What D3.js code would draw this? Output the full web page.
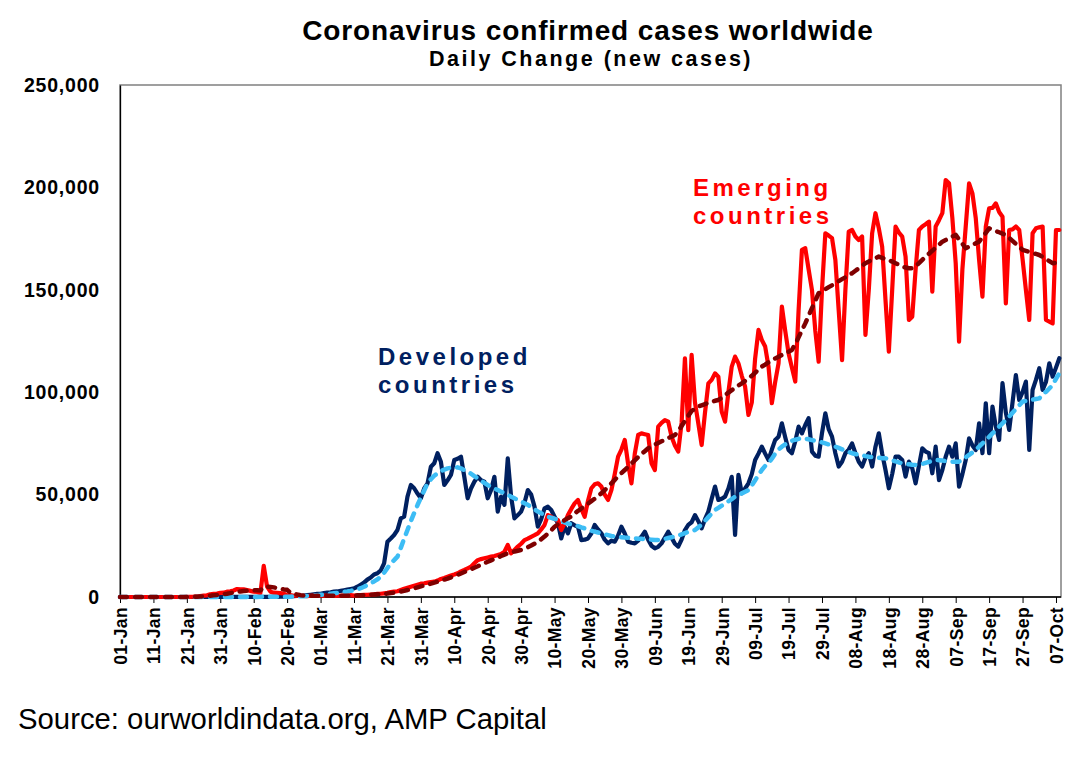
<!DOCTYPE html>
<html>
<head>
<meta charset="utf-8">
<script src="https://cdn.jsdelivr.net/npm/d3@7"></script>
<style>
  body { margin: 0; background: #fff; }
  text { font-family: "Liberation Sans", Arial, sans-serif; }
</style>
</head>
<body>
<svg id="chart" width="1090" height="763"></svg>
<script>
// daily new cases, thousands, one value per day from 01-Jan (index 0)
const developed = [
  0,0,0,0,0,0,0,0,0,0,
  0,0,0,0,0,0,0,0,0,0,
  0,0,0,0.01,0.01,0.02,0.02,0.02,0.03,0.03,
  0.03,0.04,0.05,0.04,0.05,0.05,0.06,0.05,0.06,0.07,
  0.06,0.07,0.08,0.1,0.1,0.1,0.12,0.1,0.15,0.2,
  0.2,0.3,0.4,0.5,0.6,0.7,0.9,1.1,1.3,1.5,
  1.6,1.9,2.1,2.3,2.6,2.7,3.0,3.3,3.6,3.9,
  4.2,5.0,6.0,7.0,8.5,9.5,11.0,11.6,13.0,16.4,
  27.0,28.6,30.3,32.7,38.4,39.2,49.0,54.7,53.1,50.5,
  48.2,53.0,55.5,63.6,65.3,70.2,66.0,54.7,57.0,59.6,
  66.9,67.5,68.5,58.7,48.2,53.0,56.3,58.7,57.0,56.3,
  48.2,52.2,58.7,41.7,49.0,45.0,67.7,49.0,38.4,40.0,
  41.7,46.0,52.2,50.0,44.1,34.3,38.0,43.3,44.1,42.5,
  39.2,36.0,28.6,34.3,31.1,36.0,35.0,34.3,27.8,28.0,
  28.6,31.0,35.2,33.0,31.1,28.0,26.2,27.5,27.0,30.0,
  34.3,31.0,27.0,26.5,26.2,27.5,29.5,31.9,28.0,25.0,
  23.8,24.5,26.2,29.0,31.9,29.0,26.0,24.6,28.0,32.7,
  35.2,36.5,40.0,37.0,33.5,38.0,41.7,48.0,53.9,47.4,
  48.0,49.0,53.0,58.7,30.3,59.6,50.6,53.0,55.5,60.0,
  66.9,70.0,73.4,70.0,66.9,72.0,76.7,78.3,84.8,78.0,
  71.8,70.2,76.0,83.2,79.9,84.0,87.3,71.0,69.0,68.5,
  80.0,89.7,82.0,78.3,70.2,63.7,66.0,70.2,72.0,75.0,
  70.2,66.0,63.7,68.0,70.2,63.7,73.4,79.9,70.0,62.0,
  53.1,60.0,68.5,68.5,66.9,58.8,66.1,62.9,55.5,64.0,
  72.6,71.0,70.2,60.4,73.4,57.1,62.0,68.5,73.4,68.5,
  75.0,53.9,60.0,66.9,77.5,74.0,71.8,84.8,70.2,94.6,
  70.2,93.0,83.2,76.7,104.4,90.0,81.6,95.0,108.4,96.2,
  100.0,105.2,71.8,101.1,106.0,111.7,101.1,105.0,114.1,107.6,
  112.0,116.6
];

const developedAvg = [
  0,0,0,0,0,0,0,0,0,0,
  0,0,0,0,0,0,0,0,0,0,
  0,0,0,0,0.01,0.01,0.01,0.02,0.02,0.02,
  0.03,0.03,0.03,0.04,0.04,0.04,0.05,0.05,0.05,0.05,
  0.06,0.06,0.07,0.07,0.08,0.09,0.1,0.1,0.11,0.13,
  0.15,0.18,0.22,0.27,0.33,0.4,0.5,0.62,0.75,0.9,
  1.05,1.2,1.4,1.6,1.8,2.0,2.2,2.5,2.7,3.0,
  3.4,3.8,4.3,5.0,5.8,6.7,7.6,8.6,9.9,11.8,
  14.2,16.4,18.0,19.7,24.0,28.5,32.7,37.0,41.0,44.9,
  48.5,52.0,55.5,57.5,59.2,60.4,61.5,62.2,62.8,63.1,
  63.2,63.3,62.8,62.0,61.2,60.2,59.0,57.9,56.8,55.7,
  54.7,53.8,53.0,52.2,51.4,50.6,49.8,49.0,48.2,47.4,
  46.6,45.8,45.0,43.9,42.8,41.7,40.9,40.0,39.2,38.7,
  38.2,37.6,37.0,36.4,35.8,35.5,35.2,34.6,34.0,33.5,
  32.9,32.4,31.9,31.5,31.0,30.6,30.2,29.8,29.5,29.3,
  29.2,29.0,28.9,28.8,28.6,28.5,28.4,28.3,28.1,28.0,
  27.8,27.8,28.0,28.4,28.8,29.2,29.5,30.0,30.6,31.2,
  31.8,32.2,32.7,34.0,35.5,37.2,39.0,40.8,42.5,43.5,
  44.6,45.6,46.7,47.8,49.0,49.8,50.6,51.4,52.2,54.5,
  57.0,59.6,62.0,64.0,65.3,67.5,70.0,72.0,73.4,74.5,
  75.5,76.3,76.8,77.2,77.5,77.3,77.0,76.6,76.2,75.9,
  75.5,75.0,74.5,74.0,73.4,72.8,72.1,71.5,70.8,70.2,
  69.8,69.5,69.2,68.8,68.5,68.3,68.1,68.0,67.8,67.7,
  67.3,66.8,66.2,65.7,65.3,65.0,64.8,64.6,64.5,64.7,
  65.0,65.5,66.0,66.5,66.9,66.8,66.6,66.4,66.1,66.1,
  66.1,66.1,67.0,68.2,69.4,70.6,71.8,73.4,75.0,76.6,
  78.2,79.9,81.5,83.2,84.8,86.4,88.1,90.0,91.8,93.6,
  95.4,95.8,96.1,96.4,96.7,97.0,98.6,100.2,101.8,103.5,
  106.5,109.2
];

const emerging = [
  0,0,0,0,0,0,0,0,0,0,
  0,0,0,0,0,0,0,0,0,0,
  0.05,0.1,0.15,0.26,0.5,0.7,0.8,1.3,1.5,1.7,
  2.0,2.1,2.6,2.8,3.2,3.9,3.7,3.7,3.4,3.0,
  2.6,2.5,2.0,15.2,5.1,2.6,2.1,2.0,1.9,1.7,
  0.8,0.9,0.6,0.7,0.5,0.5,0.4,0.6,0.7,0.6,
  0.8,0.7,0.6,0.5,0.5,0.6,0.6,0.7,0.8,0.9,
  0.7,0.8,0.9,1.0,1.1,1.2,1.3,1.5,1.6,1.8,
  2.0,2.4,2.6,2.8,3.4,4.0,4.5,5.0,5.5,6.0,
  6.5,6.7,7.0,7.3,7.5,8.0,8.8,9.3,9.9,10.5,
  11.0,11.6,12.5,13.2,14.0,14.8,16.5,18.0,18.5,18.9,
  19.3,19.7,20.0,20.5,21.0,22.1,25.4,21.3,23.0,24.6,
  26.0,27.8,28.5,29.4,30.2,31.1,33.0,35.2,40.0,39.2,
  38.0,37.6,32.7,36.0,40.0,43.0,45.7,47.4,43.0,39.2,
  47.0,53.1,55.0,55.5,53.9,50.0,47.4,52.2,60.0,68.5,
  72.0,76.7,65.0,55.5,70.0,79.1,79.9,79.5,79.1,65.3,
  62.0,83.2,85.0,86.4,85.6,78.3,74.0,71.0,85.0,116.5,
  81.5,118.2,95.0,84.8,74.2,90.0,104.3,106.0,109.2,107.6,
  90.5,85.6,100.0,112.5,117.4,114.1,108.0,102.7,88.9,95.0,
  116.5,130.4,125.5,122.3,112.5,94.6,105.0,114.1,141.8,130.0,
  119.0,112.0,105.2,140.0,169.5,170.3,160.0,149.9,130.0,114.9,
  150.0,177.6,176.5,175.2,164.6,140.0,115.7,150.0,178.4,179.2,
  176.0,174.3,176.0,128.0,150.0,177.6,187.4,180.0,171.1,145.0,
  119.8,150.0,180.9,178.0,176.0,166.2,135.3,136.9,159.7,179.2,
  180.9,182.0,183.3,149.1,180.9,184.0,187.4,203.6,202.0,185.0,
  163.0,124.7,160.0,180.9,202.0,197.1,185.0,164.6,146.7,180.9,
  189.8,190.0,192.2,188.0,185.7,143.4,179.2,179.5,180.9,179.2,
  165.0,149.9,135.3,177.6,180.0,180.5,180.9,135.3,134.5,133.6,
  179.2,179.2
];

const emergingAvg = [
  0,0,0,0,0,0,0,0,0,0,
  0,0,0,0,0,0,0,0,0,0,
  0,0.05,0.1,0.15,0.25,0.35,0.5,0.65,0.8,1.0,
  1.2,1.4,1.6,1.9,2.2,2.5,2.7,2.9,3.1,3.2,
  3.3,3.3,3.2,4.9,5.1,4.9,4.7,4.4,4.1,3.7,
  3.5,2.0,1.6,1.2,0.9,0.7,0.6,0.55,0.55,0.6,
  0.6,0.6,0.6,0.6,0.6,0.6,0.6,0.6,0.65,0.7,
  0.75,0.8,0.85,0.9,1.0,1.1,1.2,1.3,1.4,1.5,
  1.7,1.9,2.1,2.4,2.7,3.0,3.4,3.8,4.2,4.7,
  5.2,5.7,6.1,6.5,7.0,7.5,8.0,8.5,9.0,9.6,
  10.2,10.8,11.5,12.2,12.9,13.6,14.3,15.0,15.8,16.5,
  17.2,17.9,18.6,19.3,20.0,20.7,21.3,21.8,22.2,22.6,
  23.0,23.6,24.3,25.1,26.0,27.0,28.2,29.5,31.0,32.5,
  34.3,35.5,36.5,37.5,38.5,39.3,40.9,42.0,43.2,44.4,
  45.6,46.8,48.0,49.3,50.6,52.2,53.8,55.5,57.2,58.9,
  60.5,62.0,63.6,65.2,66.7,68.3,69.8,71.2,72.6,73.6,
  74.4,75.2,76.0,76.8,77.6,78.3,79.1,81.0,83.5,86.0,
  88.5,90.8,92.0,93.0,93.6,94.2,94.8,95.3,95.8,96.2,
  97.3,98.5,99.8,101.0,102.2,103.3,104.3,105.5,106.8,108.0,
  109.5,111.0,112.5,113.5,114.6,115.7,116.5,117.3,118.2,119.0,
  119.8,120.6,123.5,126.8,130.2,133.6,137.3,141.0,144.7,148.3,
  149.3,150.3,151.3,152.2,153.2,154.2,155.2,156.1,157.1,158.1,
  159.3,160.5,161.8,163.0,163.8,164.6,165.4,166.2,165.6,165.0,
  164.4,163.8,163.0,162.2,161.3,160.9,160.5,160.5,161.5,163.0,
  164.6,166.2,167.6,169.1,170.5,172.0,173.5,174.3,175.1,176.0,
  176.8,174.6,172.5,170.3,171.1,171.9,172.7,173.5,175.7,177.8,
  180.0,179.4,178.7,178.1,177.4,176.8,175.3,173.9,172.4,171.0,
  169.5,169.0,168.5,168.0,167.5,167.0,166.0,165.0,164.0,163.0,
  163.2,163.8
];

// one label every 10 days, starting at 01-Jan
const xTickLabels = [
  "01-Jan","11-Jan","21-Jan","31-Jan","10-Feb","20-Feb","01-Mar","11-Mar",
  "21-Mar","31-Mar","10-Apr","20-Apr","30-Apr","10-May","20-May","30-May",
  "09-Jun","19-Jun","29-Jun","09-Jul","19-Jul","29-Jul","08-Aug","18-Aug",
  "28-Aug","07-Sep","17-Sep","27-Sep","07-Oct"
];
const yTicks = [0, 50, 100, 150, 200, 250];

const svg = d3.select("#chart");
const plot = { left: 120, right: 1061, top: 85, bottom: 597 };

const x = d3.scaleLinear().domain([0, 281.5]).range([plot.left, plot.right]);
const y = d3.scaleLinear().domain([0, 250]).range([plot.bottom, plot.top]);

// titles
svg.append("text")
  .attr("x", 588).attr("y", 40)
  .attr("text-anchor", "middle")
  .style("font-size", "28px").style("font-weight", "bold")
  .style("letter-spacing", "0.9px")
  .text("Coronavirus confirmed cases worldwide");
svg.append("text")
  .attr("x", 591).attr("y", 66)
  .attr("text-anchor", "middle")
  .style("font-size", "21.5px").style("font-weight", "bold")
  .style("letter-spacing", "2.5px")
  .text("Daily Change (new cases)");

// frame: grey top/right, black axes
svg.append("rect")
  .attr("x", plot.left).attr("y", plot.top)
  .attr("width", plot.right - plot.left).attr("height", plot.bottom - plot.top)
  .attr("fill", "none").attr("stroke", "#808080").attr("stroke-width", 1.5);

// y axis
const yAxis = d3.axisLeft(y)
  .tickValues(yTicks)
  .tickSize(0)
  .tickPadding(20)
  .tickFormat((d) => d3.format(",")(d * 1000));
const gy = svg.append("g").attr("transform", `translate(${plot.left},0)`).call(yAxis);
gy.select(".domain").attr("stroke", "#000").attr("stroke-width", 1.3);
gy.selectAll("text")
  .style("font-size", "19.5px").style("font-weight", "bold")
  .style("letter-spacing", "0.8px").attr("fill", "#000");

// x axis
const xAxis = d3.axisBottom(x)
  .tickValues(xTickLabels.map((d, i) => i * 10))
  .tickSize(6)
  .tickFormat((d) => xTickLabels[d / 10]);
const gx = svg.append("g").attr("transform", `translate(0,${plot.bottom})`).call(xAxis);
gx.select(".domain").attr("stroke", "#000").attr("stroke-width", 1.3).attr("d", `M${plot.left},0H${plot.right}`);
gx.selectAll(".tick line").attr("stroke", "#000");
gx.selectAll("text")
  .attr("transform", "rotate(-90)")
  .attr("text-anchor", "end")
  .attr("x", -10).attr("y", 0).attr("dy", "0.36em")
  .style("font-size", "17.5px").style("font-weight", "bold")
  .style("letter-spacing", "0.4px").attr("fill", "#000");

// series
const line = d3.line()
  .x((d, i) => x(i))
  .y((d) => y(d));

const series = [
  { values: developed, color: "#002060", width: 4.2, dash: null },
  { values: emerging, color: "#FF0000", width: 4.2, dash: null },
  { values: developedAvg, color: "#3DBDF5", width: 4.5, dash: "7 8" },
  { values: emergingAvg, color: "#7F0000", width: 4.5, dash: "7 8" },
];

series.forEach((s) => {
  svg.append("path")
    .datum(s.values)
    .attr("d", line)
    .attr("fill", "none")
    .attr("stroke", s.color)
    .attr("stroke-width", s.width)
    .attr("stroke-linejoin", "round")
    .attr("stroke-linecap", "round")
    .attr("stroke-dasharray", s.dash);
});

// series labels
function label(lines, px, py, color) {
  const t = svg.append("text")
    .attr("fill", color)
    .style("font-size", "24px").style("font-weight", "bold")
    .style("letter-spacing", "3.5px");
  lines.forEach((l, i) => {
    t.append("tspan").attr("x", px).attr("y", py + i * 27.5).text(l);
  });
}
label(["Emerging", "countries"], 693, 196, "#FF0000");
label(["Developed", "countries"], 378, 365, "#002060");

// source
svg.append("text")
  .attr("x", 18).attr("y", 729)
  .style("font-size", "29.3px")
  .text("Source: ourworldindata.org, AMP Capital");
</script>
</body>
</html>
